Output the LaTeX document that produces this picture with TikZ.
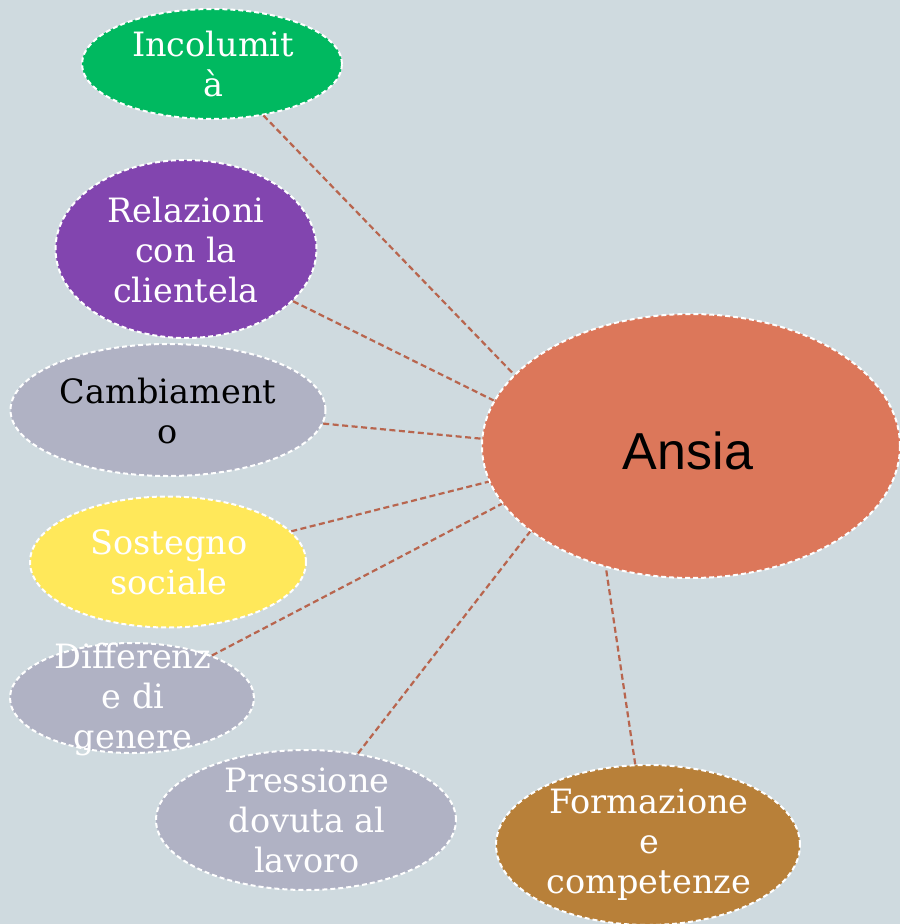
\documentclass[tikz,border=0pt]{standalone}
\usepackage{fontspec}
\setmainfont{DejaVu Serif}
\newfontfamily\ansiafont{Liberation Sans}
\usetikzlibrary{shapes.geometric}
\definecolor{bgc}{RGB}{207,218,223}
\definecolor{cgreen}{RGB}{0,185,96}
\definecolor{cpurple}{RGB}{130,69,175}
\definecolor{cgray}{RGB}{176,178,196}
\definecolor{cyellow}{RGB}{255,232,90}
\definecolor{cbrown}{RGB}{184,128,57}
\definecolor{corange}{RGB}{220,119,90}
\definecolor{clink}{RGB}{184,101,78}
\tikzset{
  blob/.style={ellipse, draw=white, line width=2pt, dash pattern=on 5pt off 3pt, inner sep=0pt},
  txt/.style={align=center, font=\fontsize{33.5}{40}\selectfont, inner sep=0pt},
  link/.style={draw=clink, line width=2.2pt, dash pattern=on 6pt off 3.5pt}
}
\begin{document}
\begin{tikzpicture}[x=1pt,y=-1pt]
\fill[bgc] (0,0) rectangle (900,924);
\useasboundingbox (0,0) rectangle (900,924);

\node[blob, fill=corange, minimum width=418pt, minimum height=264pt] (ansia) at (691,446) {};
\node[blob, fill=cgreen, minimum width=260pt, minimum height=110pt] (inc) at (212,64) {};
\node[blob, fill=cpurple, minimum width=261pt, minimum height=178pt] (rel) at (186,249) {};
\node[blob, fill=cgray, minimum width=315pt, minimum height=132pt] (cam) at (168,410) {};
\node[blob, fill=cyellow, minimum width=276pt, minimum height=131pt] (sos) at (168,562) {};
\node[blob, fill=cgray, minimum width=244pt, minimum height=110pt] (dif) at (132,698) {};
\node[blob, fill=cgray, minimum width=300pt, minimum height=140pt] (pre) at (306,820) {};
\node[blob, fill=cbrown, minimum width=304pt, minimum height=160pt] (for) at (648,845) {};

\node[txt, font=\fontsize{52}{60}\selectfont\ansiafont, text=black] (ansia-t) at (688,451) {Ansia};
\node[txt, text=white] (inc-t) at (213,64) {Incolumit\\à};
\node[txt, text=white] (rel-t) at (186,250) {Relazioni\\con la\\clientela};
\node[txt, text=black] (cam-t) at (168,411) {Cambiament\\o};
\node[txt, text=white] (sos-t) at (169,562) {Sostegno\\sociale};
\node[txt, text=white] (dif-t) at (133,699) {Differenz\\e di\\genere};
\node[txt, text=white] (pre-t) at (307,820) {Pressione\\dovuta al\\lavoro};
\node[txt, text=white] (for-t) at (649,845) {Formazione\\e\\competenze};

\draw[link] (inc.-45.6) -- (ansia.158.4);
\draw[link] (rel.-26.8) -- (ansia.167.9);
\draw[link] (cam.-5.6) -- (ansia.178.9);
\draw[link] (sos.14.7) -- (ansia.-170.6);
\draw[link] (dif.28.9) -- (ansia.-163.9);
\draw[link] (pre.52.6) -- (ansia.-152.7);
\draw[link] (for.99.9) -- (ansia.-125.7);
\end{tikzpicture}
\end{document}
